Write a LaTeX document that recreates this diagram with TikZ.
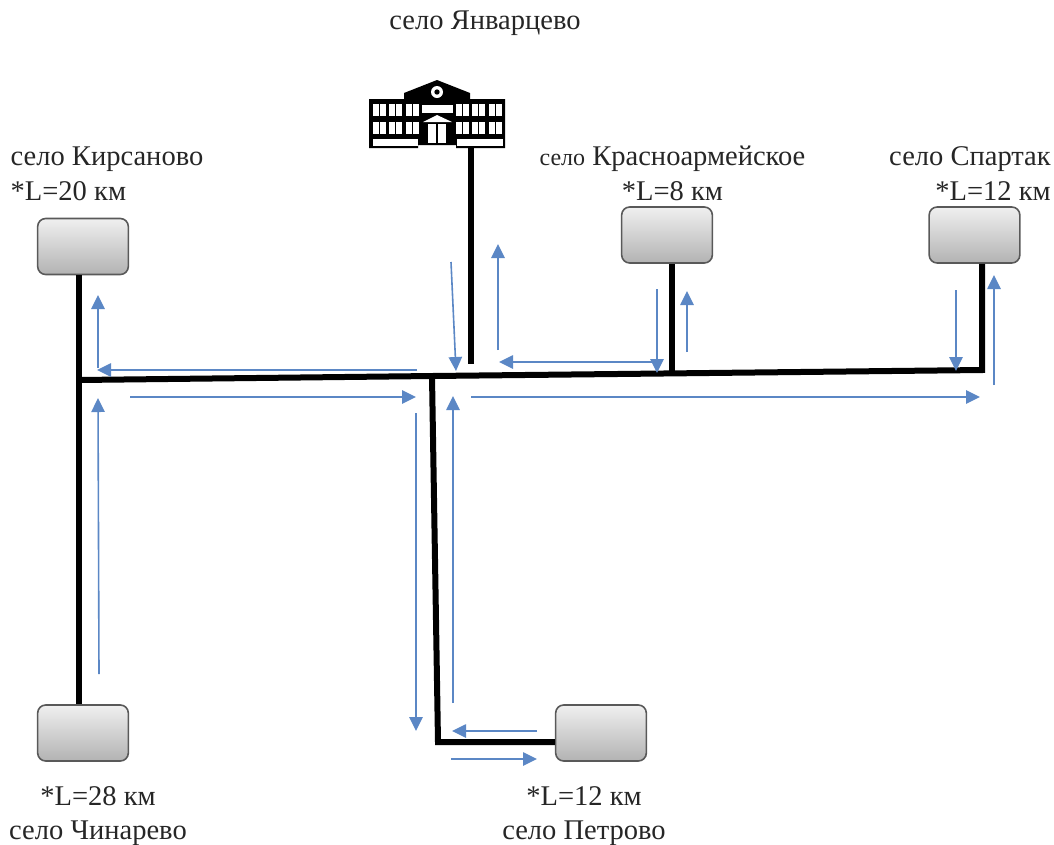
\documentclass[tikz,border=0pt]{standalone}
\usepackage{fontspec}
\setmainfont{Liberation Serif}
\usepackage{tikz}
\usetikzlibrary{arrows.meta}
\definecolor{flow}{HTML}{5B87C5}
\begin{document}
\begin{tikzpicture}[x=0.75pt,y=-0.75pt,>={Triangle[length=10.5pt,width=10pt]},
	village/.style={draw=black!65,line width=1.2pt,rounded corners=6pt,top color=black!6,bottom color=black!30,minimum width=68pt,minimum height=42pt,inner sep=0pt},
	caption/.style={font=\fontsize{21.4}{26}\selectfont,inner sep=0pt,text=black!85},
	wire/.style={line width=4.5pt,line join=miter},
	flowline/.style={->,draw=flow,line width=1.2pt},
	pane/.style={fill=white,draw=none}]
	\useasboundingbox (0,0) rectangle (1054,844);

	\node [village]		(kirsanovo)	at (83,246.5)	{};
	\node [village]		(krasno)	at (667,235)	{};
	\node [village]		(spartak)	at (974.5,235)	{};
	\node [village]		(chinarevo)	at (83,733)		{};
	\node [village]		(petrovo)	at (601,733)	{};
	\node [minimum width=102pt,minimum height=51pt,inner sep=0pt]	(school)	at (437,114)	{};

	\node [caption]					(t0)	at (485,23)		{село Январцево};
	\node [caption,align=left]		(t1)	at (107,173.5)	{село Кирсаново\\*L=20 км};
	\node [caption,align=center]	(t2)	at (672.5,173.5)	{{\fontsize{18}{26}\selectfont село} Красноармейское\\*L=8 км};
	\node [caption,align=right]		(t3)	at (970,173.5)	{село Спартак\\*L=12 км};
	\node [caption,align=center]	(t4)	at (98,816)	{*L=28 км\\село Чинарево};
	\node [caption,align=center]	(t5)	at (584,816)	{*L=12 км\\село Петрово};

	\coordinate (west)		at (79,380);
	\coordinate (centre)	at (432,376);
	\coordinate (kras)		at (672,373.4);
	\coordinate (tap)		at (471,364);
	\coordinate (east)		at (982,370);
	\coordinate (corner)	at (438,742);

	\draw [wire] (west |- kirsanovo.south) -- (west |- chinarevo.north);
	\draw [wire] (west) -- (centre) -- (kras) -- (east) -- (east |- spartak.south);
	\draw [wire] (kras) -- (kras |- krasno.south);
	\draw [wire] (tap |- school.south) -- (tap);
	\draw [wire] (centre) -- (corner) -- (petrovo.west |- corner);

	\fill (369,99) -- (404,99) -- (404,93) -- (437,80) -- (470,93) -- (470,99) -- (505,99) -- (505,148) -- (456,148) -- (456,145) -- (418,145) -- (418,148) -- (369,148) -- cycle;
	\foreach \xa in {373,389,406,456,472,489} {
		\foreach \ya in {104,122} {
			\fill [pane] (\xa,\ya) rectangle +(5.5,12);
			\fill [pane] (\xa+7,\ya) rectangle +(5.5,12);
		}
	}
	\fill [pane] (422,105) rectangle (453,113);
	\fill [pane] (423,122) -- (437,115) -- (452,122) -- cycle;
	\fill [pane] (428,124) rectangle (436,143);
	\fill [pane] (438,124) rectangle (446,143);
	\fill [pane] (373,139) rectangle (418,146);
	\fill [pane] (457,139) rectangle (503,146);
	\fill [pane] (437,92) circle (4.5pt);
	\fill (437,92) circle (2pt);

	\coordinate (a1)	at (417,370);	\coordinate (b1)	at (97,370);
	\coordinate (a2)	at (98,368);	\coordinate (b2)	at (98,295);
	\coordinate (a3)	at (99,674);	\coordinate (b3)	at (98,398);
	\coordinate (a4)	at (130,397);	\coordinate (b4)	at (416,397);
	\coordinate (a5)	at (451,262);	\coordinate (b5)	at (456,371);
	\coordinate (a6)	at (498,350);	\coordinate (b6)	at (498,244);
	\coordinate (a7)	at (652,362);	\coordinate (b7)	at (499,362);
	\coordinate (a8)	at (657,289);	\coordinate (b8)	at (657,373);
	\coordinate (a9)	at (687,352);	\coordinate (b9)	at (687,291);
	\coordinate (a10)	at (956,290);	\coordinate (b10)	at (956,371);
	\coordinate (a11)	at (994,385);	\coordinate (b11)	at (994,275);
	\coordinate (a12)	at (471,397);	\coordinate (b12)	at (980,397);
	\coordinate (a13)	at (416,413);	\coordinate (b13)	at (416,731);
	\coordinate (a14)	at (453,703);	\coordinate (b14)	at (453,396);
	\coordinate (a15)	at (537,731);	\coordinate (b15)	at (452,731);
	\coordinate (a16)	at (451,759);	\coordinate (b16)	at (537,759);

	\foreach \n in {1,...,16} {
		\draw [flowline] (a\n) -- (b\n);
	}
\end{tikzpicture}
\end{document}
